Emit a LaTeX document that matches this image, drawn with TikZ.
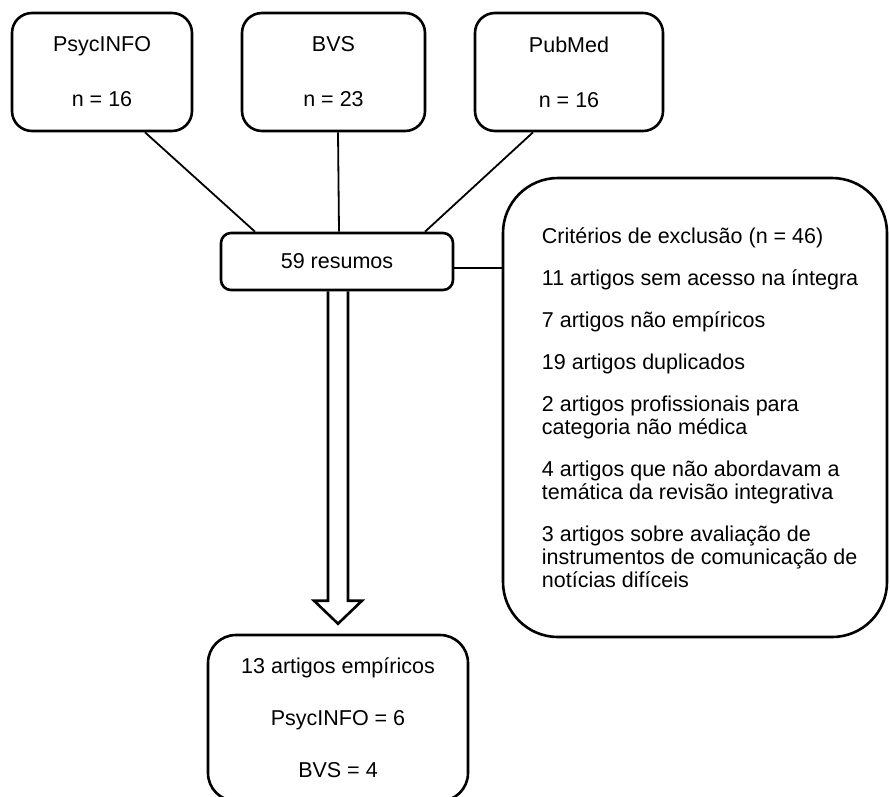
\documentclass[tikz,border=0pt]{standalone}
\usepackage{fontspec}
\setmainfont{Liberation Sans}
\usetikzlibrary{calc}

\begin{document}
\begin{tikzpicture}[x=1pt, y=-1pt,
    base/.style={draw, line width=2.6pt, rounded corners=20pt, align=center,
      font=\fontsize{21.5}{23}\selectfont, inner sep=0pt},
    txt/.style={font=\fontsize{21.5}{23}\selectfont, inner sep=0pt},
    link/.style={line width=1.8pt}]
    \useasboundingbox (0,0) rectangle (890,796);
    \node[base, minimum width=180pt, minimum height=118pt] (psyc) at (102,72) {PsycINFO\\[32pt]n = 16};
    \node[base, minimum width=183pt, minimum height=118pt] (bvs) at (333.5,72) {BVS\\[32pt]n = 23};
    \node[base, minimum width=188pt, minimum height=118pt] (pubmed) at (569,72) {PubMed\\[32pt]n = 16};
    \node[base, rounded corners=10pt, minimum width=232pt, minimum height=57pt] (resumos) at (337,261.5) {59 resumos};
    \node[base, rounded corners=55pt, minimum width=384pt, minimum height=459pt] (excl) at (695,407.5) {};
    \node[txt, align=left, anchor=west] (crit) at ($(excl.west)+(40,0)$) {Critérios de exclusão (n = 46)\\[19pt]
      11 artigos sem acesso na íntegra\\[19pt]
      7 artigos não empíricos\\[19pt]
      19 artigos duplicados\\[19pt]
      2 artigos profissionais para\\categoria não médica\\[19pt]
      4 artigos que não abordavam a\\temática da revisão integrativa\\[19pt]
      3 artigos sobre avaliação de\\instrumentos de comunicação de\\notícias difíceis};
    \node[base, rounded corners=28pt, minimum width=260pt, minimum height=166pt] (final) at (338,718) {13 artigos empíricos\\[29pt]PsycINFO = 6\\[29pt]BVS = 4};
    \draw[link] ($(psyc.south)+(43,0)$) -- ($(resumos.north)+(-82,0)$);
    \draw[link] ($(bvs.south)+(4.5,0)$) -- ($(resumos.north)+(2,0)$);
    \draw[link] ($(pubmed.south)+(-36,0)$) -- ($(resumos.north)+(88,0)$);
    \coordinate (r) at ($(resumos.east)+(0,6.5)$);
    \draw[link] (r) -- (r -| excl.west);
    \coordinate (tip) at ($(final.north)+(0,-10)$);
    \draw[line width=2.6pt, line join=miter] ($(resumos.south)+(-9,0)$) -- ($(tip)+(-10,-23)$)
      -- ($(tip)+(-24,-23)$) -- (tip) -- ($(tip)+(24,-23)$) -- ($(tip)+(10,-23)$) -- ($(resumos.south)+(11,0)$);
  \end{tikzpicture}
\end{document}
